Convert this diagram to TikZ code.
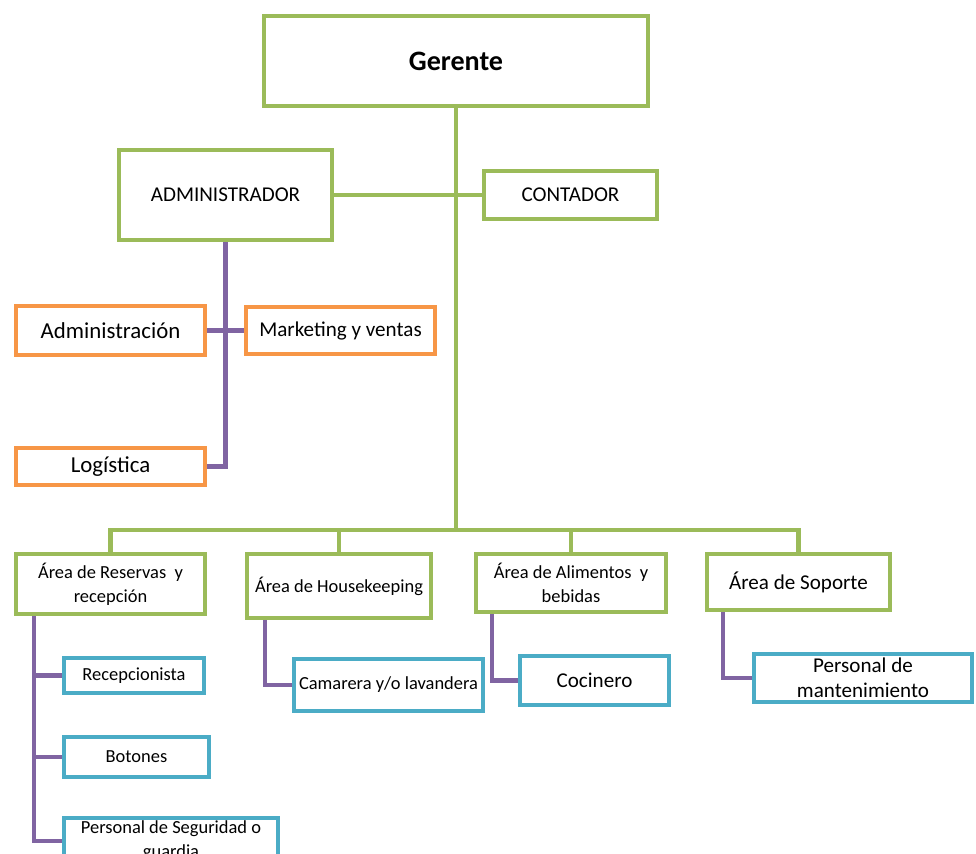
\documentclass[tikz,border=0pt]{standalone}
\usepackage{fontspec}
\setmainfont{Carlito}
\usepackage{tikz}
\definecolor{ogreen}{HTML}{9BBB59}
\definecolor{oorange}{HTML}{F79646}
\definecolor{oblue}{HTML}{4BACC6}
\definecolor{opurple}{HTML}{8064A2}
\newcommand{\fsz}[1]{\fontsize{#1pt}{#1pt}\selectfont}
\tikzset{
  box/.style={draw, fill=white, line width=2.3pt, inner sep=1pt, align=center},
  gbox/.style={box, draw=ogreen},
  obox/.style={box, draw=oorange},
  bbox/.style={box, draw=oblue},
  gline/.style={draw=ogreen, line width=2.3pt},
  pline/.style={draw=opurple, line width=2.3pt}
}

\begin{document}
\begin{tikzpicture}[x=0.02cm, y=-0.02cm]
\clip (0,0) rectangle (976,854);
\fill[white] (0,0) rectangle (976,854);
\coordinate (bus) at (456,530);
% boxes
\node[gbox, minimum width=7.68cm, minimum height=1.8cm, font=\bfseries\fsz{16}] (ger) at (456,61) {Gerente};
\node[gbox, minimum width=4.26cm, minimum height=1.8cm, font=\fsz{12}] (adm) at (225.5,195) {ADMINISTRADOR};
\node[gbox, minimum width=3.46cm, minimum height=0.96cm, font=\fsz{12}] (con) at (570.5,195) {CONTADOR};
\node[obox, minimum width=3.78cm, minimum height=0.98cm, font=\fsz{13}] (admon) at (110.5,330.5) {Administración};
\node[obox, minimum width=3.78cm, minimum height=0.94cm, font=\fsz{12}] (mkt) at (340.5,330.5) {Marketing y ventas};
\node[obox, minimum width=3.78cm, minimum height=0.74cm, font=\fsz{13}] (log) at (110.5,466.5) {Logística};
\node[gbox, minimum width=3.78cm, minimum height=1.2cm, font=\fsz{10.5}] (res) at (110.5,584) {Área de Reservas\ \ y\\[3pt]recepción};
\node[gbox, minimum width=3.68cm, minimum height=1.28cm, font=\fsz{10.5}] (hk) at (339,586) {Área de Housekeeping};
\node[gbox, minimum width=3.8cm, minimum height=1.16cm, font=\fsz{10.5}] (ali) at (571,583) {Área de Alimentos\ \ y\\[3pt]bebidas};
\node[gbox, minimum width=3.66cm, minimum height=1.12cm, font=\fsz{12}] (sop) at (798.5,582) {Área de Soporte};
\node[bbox, minimum width=2.8cm, minimum height=0.7cm, font=\fsz{10.5}] (rec) at (134,675.5) {Recepcionista};
\node[bbox, minimum width=2.9cm, minimum height=0.8cm, font=\fsz{10.5}] (bot) at (136.5,757) {Botones};
\node[bbox, minimum width=4.28cm, minimum height=0.92cm, font=\fsz{10.5}] (seg) at (171,841) {Personal de Seguridad o\\[3pt]guardia};
\node[bbox, minimum width=3.78cm, minimum height=1.04cm, font=\fsz{10.5}] (cam) at (388.5,685) {Camarera y/o lavandera};
\node[bbox, minimum width=2.98cm, minimum height=0.98cm, font=\fsz{12}] (coc) at (594.5,680.5) {Cocinero};
\node[bbox, minimum width=4.36cm, minimum height=0.96cm, font=\fsz{12}] (man) at (863,678) {Personal de\\[2pt]mantenimiento};
% green connectors
\draw[gline] (ger) -- (ger |- bus);
\draw[gline] (adm.east) -- (con.west);
\draw[gline] (res.north) |- (bus) -| (sop.north);
\draw[gline] (hk.north) -- (hk.north |- bus);
\draw[gline] (ali.north) -- (ali.north |- bus);
% purple connectors
\draw[pline] (admon.east) -- (mkt.west);
\draw[pline] (adm.south) |- (log.east);
\coordinate (rs) at ([xshift=0.4cm]res.south west);
\draw[pline] (rs) |- (seg.west);
\draw[pline] (rs |- rec.west) -- (rec.west);
\draw[pline] (rs |- bot.west) -- (bot.west);
\draw[pline] ([xshift=0.4cm]hk.south west) |- (cam.west);
\draw[pline] ([xshift=0.36cm]ali.south west) |- (coc.west);
\draw[pline] ([xshift=0.36cm]sop.south west) |- (man.west);
\end{tikzpicture}
\end{document}
